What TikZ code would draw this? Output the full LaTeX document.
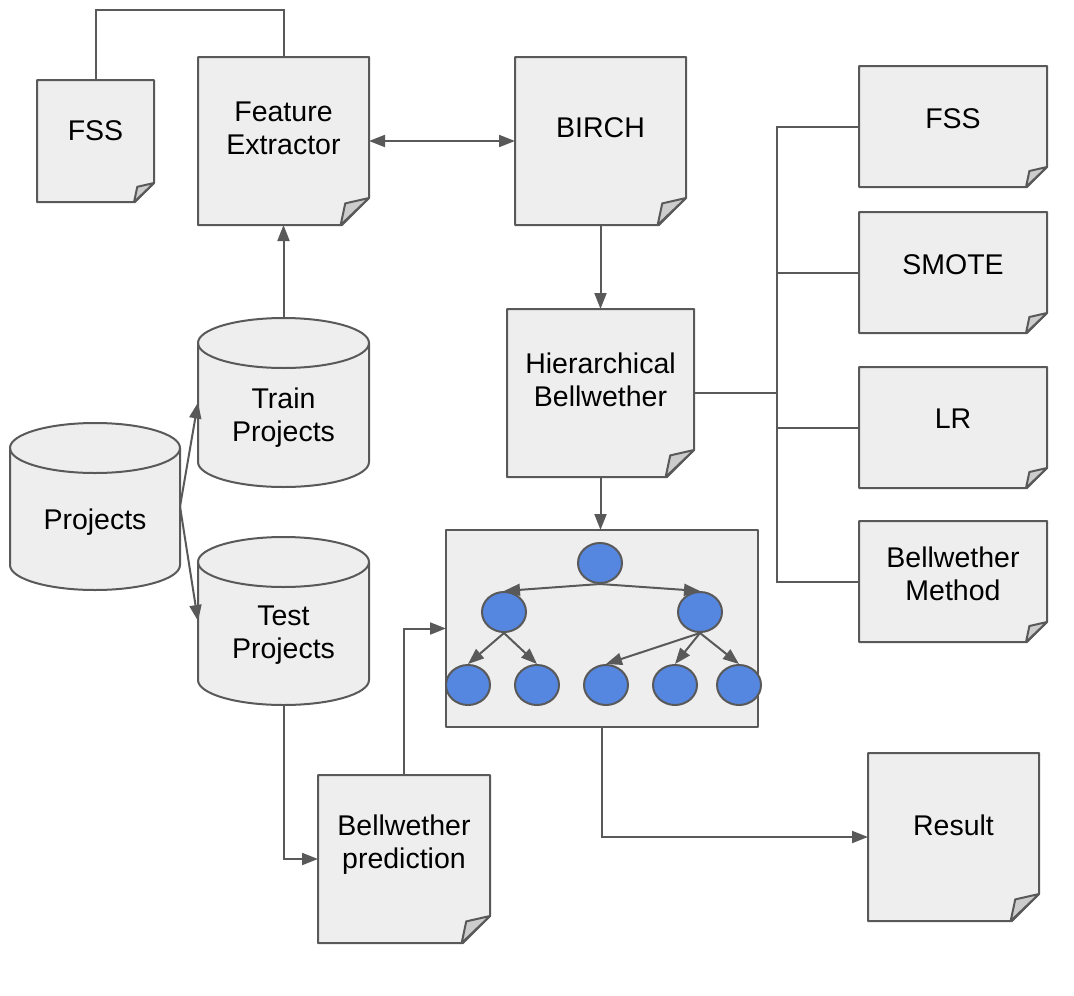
\documentclass[tikz,border=0pt]{standalone}
\usepackage{fontspec}
\setmainfont{Liberation Sans}
\usetikzlibrary{shapes.geometric, arrows.meta, calc}

\definecolor{boxgray}{HTML}{EEEEEE}
\definecolor{edgegray}{HTML}{595959}
\definecolor{foldgray}{HTML}{CCCCCC}
\definecolor{treeblue}{HTML}{5586E0}

\tikzset{
  tip/.tip={Triangle[length=16pt,width=12pt]},
  edge/.style={draw=edgegray, line width=2pt},
  arr/.style={edge, -tip},
  frame/.style={edge, fill=boxgray, line join=round},
  holder/.style={inner sep=0pt, outer sep=0pt},
  txt/.style={align=center, font=\fontsize{28.5}{33}\selectfont},
  leaf/.style={ellipse, edge, fill=treeblue, minimum width=44pt, minimum height=40pt, inner sep=0pt},
}

% note with folded corner: name, x1, y1, x2, y2, fold, text lift, text
\newcommand\notebox[8]{%
  \draw[frame] (#2,#3) -- (#4,#3) -- (#4,#5-#6) -- (#4-#6,#5) -- (#2,#5) -- cycle;
  \draw[edge, fill=foldgray, line join=round] (#4,#5-#6) -- (#4-0.88*#6,#5-0.8*#6) -- (#4-1.05*#6,#5) -- cycle;
  \node[holder, minimum width={(#4-#2)*1pt}, minimum height={(#5-#3)*1pt}] (#1) at ({(#2+#4)/2},{(#3+#5)/2}) {};
  \node[txt] (#1-t) at ([yshift=#7pt]#1.center) {#8};
}

% drum (cylinder): name, x1, y1, x2, y2, ellipse radius, text drop, text
\newcommand\drum[8]{%
  \draw[frame] (#2,#3+#6) -- (#2,#5-#6) arc[start angle=180, end angle=360, x radius={(#4-#2)/2*1pt}, y radius=#6pt]
    -- (#4,#3+#6) arc[start angle=0, end angle=180, x radius={(#4-#2)/2*1pt}, y radius=#6pt] -- cycle;
  \draw[edge] (#2,#3+#6) arc[start angle=180, end angle=360, x radius={(#4-#2)/2*1pt}, y radius=#6pt];
  \node[holder, minimum width={(#4-#2)*1pt}, minimum height={(#5-#3)*1pt}] (#1) at ({(#2+#4)/2},{(#3+#5)/2}) {};
  \node[txt] (#1-t) at ([yshift=-#7pt]#1.center) {#8};
}

\begin{document}
\begin{tikzpicture}[x=1pt, y=-1pt]
  \useasboundingbox (0,0) rectangle (1074,996);

  % documents
  \notebox{fssl}{37}{80}{154}{202}{19}{10}{FSS}
  \notebox{fe}{198}{57}{369}{225}{27}{13}{Feature\\Extractor}
  \notebox{birch}{515}{57}{686}{225}{27}{13}{BIRCH}
  \notebox{hb}{507}{309}{694}{477}{27}{13}{Hierarchical\\Bellwether}
  \notebox{fssr}{859}{66}{1047}{187}{20}{8}{FSS}
  \notebox{smote}{859}{212}{1047}{333}{20}{8}{SMOTE}
  \notebox{lr}{859}{367}{1047}{488}{20}{9}{LR}
  \notebox{bm}{859}{521}{1047}{642}{20}{8}{Bellwether\\Method}
  \notebox{bp}{318}{775}{490}{943}{27}{14}{Bellwether\\prediction}
  \notebox{result}{868}{753}{1039}{921}{27}{12}{Result}

  % data
  \drum{train}{198}{318}{369}{487}{25}{15}{Train\\Projects}
  \drum{test}{198}{537}{369}{705}{25}{14}{Test\\Projects}
  \drum{proj}{10}{423}{180}{590}{25}{16}{Projects}

  % tree panel
  \node[frame, holder, minimum width=312pt, minimum height=197pt] (tree) at (602,628.5) {};
  \node[leaf] (root) at (600,563) {};
  \node[leaf] (ml) at (504,612) {};
  \node[leaf] (mr) at (700,612) {};
  \node[leaf] (l1) at (468,685) {};
  \node[leaf] (l2) at (537,685) {};
  \node[leaf] (l3) at (606,685) {};
  \node[leaf] (l4) at (675,685) {};
  \node[leaf] (l5) at (739,685) {};
  \draw[arr] (root.south) -- (ml.north);
  \draw[arr] (root.south) -- (mr.north);
  \draw[arr] (ml.south) -- (l1.north);
  \draw[arr] (ml.south) -- (l2.north);
  \draw[arr] (mr.south) -- (l3.north);
  \draw[arr] (mr.south) -- (l4.north);
  \draw[arr] (mr.south) -- (l5.north);

  % connectors
  \draw[edge] (fssl.north) |- ([yshift=47pt]fe.north) -- (fe.north);
  \draw[edge, tip-tip] (fe) -- (birch);
  \draw[arr] (train) -- (fe);
  \draw[arr] (birch) -- (hb);
  \draw[arr] (hb.south) -- (hb.south |- tree.north);
  \draw[arr] (proj.east) -- (train.west);
  \draw[arr] (proj.east) -- (test.west);
  \draw[arr] (test.south) |- (bp.west);
  \draw[arr] (bp.north) |- (tree.west);
  \draw[arr] (tree.south) |- (result.west);

  \coordinate (hub) at (777,393);
  \draw[edge] (hb.east) -- (hub);
  \draw[edge] (hub) |- (fssr.west);
  \draw[edge] (hub) |- (smote.west);
  \draw[edge] (hub) |- (lr.west);
  \draw[edge] (hub) |- (bm.west);
\end{tikzpicture}
\end{document}
